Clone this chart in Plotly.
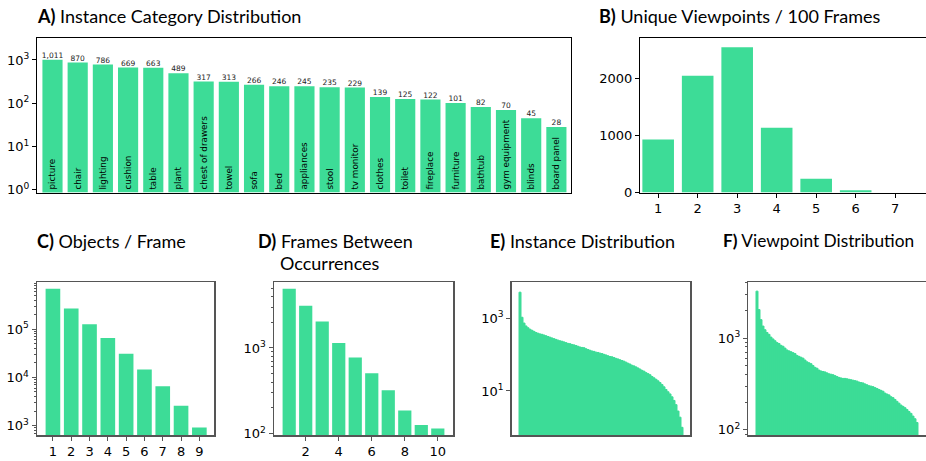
import plotly.graph_objects as go

W, H = 926, 461
GREEN = "#3ddc97"

# ---------------- data ----------------
# A) Instance Category Distribution
cat_names = ["picture", "chair", "lighting", "cushion", "table", "plant",
             "chest of drawers", "towel", "sofa", "bed", "appliances", "stool",
             "tv monitor", "clothes", "toilet", "fireplace", "furniture",
             "bathtub", "gym equipment", "blinds", "board panel"]
cat_counts = [1011, 870, 786, 669, 663, 489, 317, 313, 266, 246, 245, 235,
              229, 139, 125, 122, 101, 82, 70, 45, 28]

# B) Unique Viewpoints / 100 Frames
vp_bins = [1, 2, 3, 4, 5, 6, 7]
vp_counts = [931, 2052, 2552, 1138, 241, 40, 3]

# C) Objects / Frame
obj_bins = [1, 2, 3, 4, 5, 6, 7, 8, 9]
obj_counts = [690000, 268000, 127000, 66000, 31000, 14600, 6600, 2600, 920]

# D) Frames Between Occurrences
gap_bins = [1, 2, 3, 4, 5, 6, 7, 8, 9, 10]
gap_counts = [4900, 3120, 2040, 1140, 774, 507, 321, 186, 126, 115]

# E) Instance Distribution (sorted counts)
inst_counts = [5250, 1070, 741, 617, 550, 501, 468, 437, 407, 389, 372, 363,
               347, 331, 316, 302, 288, 275, 263, 251, 240, 234, 224, 214,
               204, 200, 191, 186, 178, 170, 162, 158, 155, 145, 138, 132,
               126, 123, 117, 115, 110, 107, 102, 98, 93, 89, 87, 83, 79, 76,
               72, 69, 66, 62, 58, 55, 51, 49, 46, 43, 40, 37, 35, 32, 30, 28,
               25, 23, 21, 19, 17, 15, 13, 11, 9.5, 8.3, 6.9, 5.5, 4.2, 2.8,
               1.9, 1.0]

# F) Viewpoint Distribution (sorted counts)
view_counts = [3240, 2040, 1585, 1349, 1230, 1148, 1096, 1023, 977, 933, 891,
               871, 832, 813, 776, 741, 724, 708, 692, 676, 646, 631, 617, 603,
               575, 550, 537, 525, 501, 479, 468, 447, 437, 432, 427, 417, 407,
               403, 398, 389, 380, 372, 367, 363, 363, 359, 355, 351, 347, 343,
               339, 331, 327, 324, 316, 309, 302, 299, 295, 288, 282, 275, 269,
               263, 251, 245, 240, 229, 224, 214, 204, 195, 186, 180, 174, 166,
               158, 151, 141, 132, 120]

log_ticks_A = [1, 10, 100, 1000]
log_text_A = ["10<sup>0</sup>", "10<sup>1</sup>", "10<sup>2</sup>", "10<sup>3</sup>"]
lin_ticks_B = [0, 1000, 2000]
log_ticks_C = [1000, 10000, 100000]
log_text_C = ["10<sup>3</sup>", "10<sup>4</sup>", "10<sup>5</sup>"]
x_ticks_D = [2, 4, 6, 8, 10]
log_ticks_D = [100, 1000]
log_text_D = ["10<sup>2</sup>", "10<sup>3</sup>"]
log_ticks_E = [10, 1000]
log_text_E = ["10<sup>1</sup>", "10<sup>3</sup>"]
log_ticks_F = [100, 1000]
log_text_F = ["10<sup>2</sup>", "10<sup>3</sup>"]


def dx(px):
    return px / W


def dy(py):
    return 1 - py / H


fig = go.Figure()

# A
fig.add_trace(go.Bar(x=cat_names, y=cat_counts, width=0.8, marker_color=GREEN,
                     marker_line_width=0, text=cat_names, textposition="inside",
                     insidetextanchor="start", textangle=-90, constraintext="none",
                     textfont=dict(family="DejaVu Sans", size=8.8, color="black"),
                     xaxis="x", yaxis="y", hoverinfo="skip"))
fig.add_trace(go.Scatter(x=cat_names, y=cat_counts, mode="text",
                         text=[f"{v:,}" for v in cat_counts], textposition="top center",
                         textfont=dict(family="DejaVu Sans", size=7.5, color="#222"),
                         cliponaxis=False, xaxis="x", yaxis="y", hoverinfo="skip"))
# B
fig.add_trace(go.Bar(x=vp_bins, y=vp_counts, width=0.8, marker_color=GREEN,
                     marker_line_width=0, xaxis="x2", yaxis="y2"))
# C
fig.add_trace(go.Bar(x=obj_bins, y=obj_counts, width=0.8, marker_color=GREEN,
                     marker_line_width=0, xaxis="x3", yaxis="y3"))
# D
fig.add_trace(go.Bar(x=gap_bins, y=gap_counts, width=0.8, marker_color=GREEN,
                     marker_line_width=0, xaxis="x4", yaxis="y4"))
# E
fig.add_trace(go.Bar(x=list(range(len(inst_counts))), y=inst_counts, width=1,
                     marker_color=GREEN, marker_line=dict(color=GREEN, width=1),
                     xaxis="x5", yaxis="y5"))
# F
fig.add_trace(go.Bar(x=list(range(len(view_counts))), y=view_counts, width=1,
                     marker_color=GREEN, marker_line=dict(color=GREEN, width=1),
                     xaxis="x6", yaxis="y6"))

tickfont = dict(family="DejaVu Sans", size=13, color="black")
dark = "black"
grey = "#555555"


def xax(domain, anchor, rng, color, width, tickvals=None, mirror=True):
    d = dict(domain=domain, anchor=anchor, range=rng, showline=True, linecolor=color,
             linewidth=width, mirror=mirror, showgrid=False, zeroline=False,
             tickfont=tickfont, fixedrange=True)
    if tickvals is None:
        d.update(showticklabels=False, ticks="")
    else:
        d.update(tickmode="array", tickvals=tickvals, ticks="outside", ticklen=4,
                 tickcolor=color, tickwidth=1)
    return d


def yax(domain, anchor, rng, color, width, tickvals, ticktext=None, log=True,
        mirror=True, minor=False):
    d = dict(domain=domain, anchor=anchor, range=rng, showline=True, linecolor=color,
             linewidth=width, mirror=mirror, showgrid=False, zeroline=False,
             tickfont=tickfont, tickmode="array", tickvals=tickvals, ticks="outside",
             ticklen=4, tickcolor=color, tickwidth=1, fixedrange=True)
    if ticktext is not None:
        d["ticktext"] = ticktext
    if log:
        d["type"] = "log"
    if minor:
        d["minor"] = dict(ticks="outside", ticklen=2, tickcolor=color, tickwidth=1,
                          showgrid=False, dtick="D1")
    return d


yA = [dy(196), dy(39)]
yC = [dy(443), dy(287)]

fig.update_layout(
    width=W, height=H, margin=dict(l=0, r=0, t=0, b=0),
    paper_bgcolor="white", plot_bgcolor="white", showlegend=False,
    hovermode=False,
    xaxis=xax([dx(37), dx(571)], "y", [-0.615, 20.58], dark, 1),
    yaxis=yax(yA, "x", [-0.068, 3.5], dark, 1, log_ticks_A, log_text_A),
    xaxis2=xax([dx(640), 1.0], "y2", [0.54, 7.78], dark, 1, vp_bins),
    yaxis2=yax(yA, "x2", [0, 2707], dark, 1, lin_ticks_B, log=False, mirror=False),
    xaxis3=xax([dx(37), dx(214)], "y3", [0.13, 9.8], grey, 1.5, obj_bins),
    yaxis3=yax(yC, "x3", [2.8, 5.98], grey, 1.5, log_ticks_C, log_text_C, minor=True),
    xaxis4=xax([dx(274), dx(453)], "y4", [0.08, 10.92], grey, 1.5, x_ticks_D),
    yaxis4=yax(yC, "x4", [1.98, 3.77], grey, 1.5, log_ticks_D, log_text_D, minor=True),
    xaxis5=xax([dx(511.7), dx(690)], "y5", [-4.15, 85], grey, 1.5),
    yaxis5=yax(yC, "x5", [-0.22, 4.0], grey, 1.5, log_ticks_E, log_text_E),
    xaxis6=xax([dx(748.3), 1.0], "y6", [-4.35, 84.5], grey, 1.5),
    yaxis6=yax(yC, "x6", [1.94, 3.61], grey, 1.5, log_ticks_F, log_text_F,
               mirror=False, minor=True),
)

titles = [
    ("<b>A)</b> Instance Category Distribution", 35, 16, 18),
    ("<b>B)</b> Unique Viewpoints / 100 Frames", 597, 16, 18),
    ("<b>C)</b> Objects / Frame", 35, 245, 18),
    ("<b>D)</b> Frames Between", 256, 245, 18),
    ("Occurrences", 278, 268, 18),
    ("<b>E)</b> Instance Distribution", 488, 245, 18),
    ("<b>F)</b> Viewpoint Distribution", 721, 245, 17.3),
]
for txt, px, py, fs in titles:
    fig.add_annotation(text=txt, x=dx(px), y=dy(py), xref="paper", yref="paper",
                       xanchor="left", yanchor="middle", showarrow=False,
                       font=dict(family="Lato", size=fs, color="black"))

fig.write_html("out.html",
               config={"displayModeBar": False, "staticPlot": True},
               post_script="document.body.style.margin='0';"
                           "document.body.style.overflow='hidden';")
